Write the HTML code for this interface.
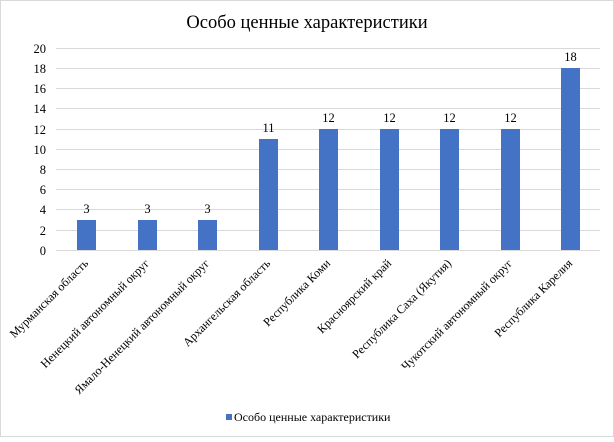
<!DOCTYPE html>
<html><head><meta charset="utf-8"><style>
body{margin:0;background:#fff}
</style></head><body>
<svg width="614" height="437" xmlns="http://www.w3.org/2000/svg" font-family="Liberation Serif, serif">
<rect x="0.5" y="0.5" width="613" height="436" fill="#fff" stroke="#d9d9d9"/>
<text x="307" y="28" font-size="18.5" text-anchor="middle" fill="#000">Особо ценные характеристики</text>
<g stroke="#d9d9d9" stroke-width="1">
<line x1="56" x2="600" y1="48.5" y2="48.5"/><line x1="56" x2="600" y1="68.5" y2="68.5"/>
<line x1="56" x2="600" y1="88.5" y2="88.5"/><line x1="56" x2="600" y1="108.5" y2="108.5"/>
<line x1="56" x2="600" y1="129.5" y2="129.5"/><line x1="56" x2="600" y1="149.5" y2="149.5"/>
<line x1="56" x2="600" y1="169.5" y2="169.5"/><line x1="56" x2="600" y1="189.5" y2="189.5"/>
<line x1="56" x2="600" y1="209.5" y2="209.5"/><line x1="56" x2="600" y1="230.5" y2="230.5"/>
<line x1="56" x2="600" y1="250.5" y2="250.5"/>
</g>
<g font-size="12.5" text-anchor="end" fill="#000">
<text x="46" y="53">20</text><text x="46" y="73">18</text><text x="46" y="93">16</text>
<text x="46" y="113">14</text><text x="46" y="134">12</text><text x="46" y="154">10</text>
<text x="46" y="174">8</text><text x="46" y="194">6</text><text x="46" y="214">4</text>
<text x="46" y="235">2</text><text x="46" y="255">0</text>
</g>
<g fill="#4472c4">
<rect x="77" y="220" width="19" height="30"/>
<rect x="138" y="220" width="19" height="30"/>
<rect x="198" y="220" width="19" height="30"/>
<rect x="259" y="139" width="19" height="111"/>
<rect x="319" y="129" width="19" height="121"/>
<rect x="380" y="129" width="19" height="121"/>
<rect x="440" y="129" width="19" height="121"/>
<rect x="501" y="129" width="19" height="121"/>
<rect x="561" y="68" width="19" height="182"/>
</g>
<g font-size="12.5" text-anchor="middle" fill="#000">
<text x="86.5" y="213">3</text><text x="147.5" y="213">3</text><text x="207.5" y="213">3</text>
<text x="268.5" y="132">11</text><text x="328.5" y="122">12</text><text x="389.5" y="122">12</text>
<text x="449.5" y="122">12</text><text x="510.5" y="122">12</text><text x="570.5" y="61">18</text>
</g>
<g font-size="12" text-anchor="end" fill="#000">
<text transform="translate(89,264) rotate(-45)">Мурманская область</text>
<text transform="translate(150,264) rotate(-45)">Ненецкий  автономный  округ</text>
<text transform="translate(210,264) rotate(-45)">Ямало-Ненецкий  автономный  округ</text>
<text transform="translate(271,264) rotate(-45)">Архангельская область</text>
<text transform="translate(331,264) rotate(-45)">Республика Коми</text>
<text transform="translate(392,264) rotate(-45)">Красноярский край</text>
<text transform="translate(452,264) rotate(-45)">Республика Саха  (Якутия)</text>
<text transform="translate(513,264) rotate(-45)">Чукотский автономный  округ</text>
<text transform="translate(573,264) rotate(-45)">Республика Карелия</text>
</g>
<rect x="226" y="414" width="6" height="6" fill="#4472c4"/>
<text x="234" y="421" font-size="12" fill="#000">Особо ценные  характеристики</text>
</svg>
</body></html>
